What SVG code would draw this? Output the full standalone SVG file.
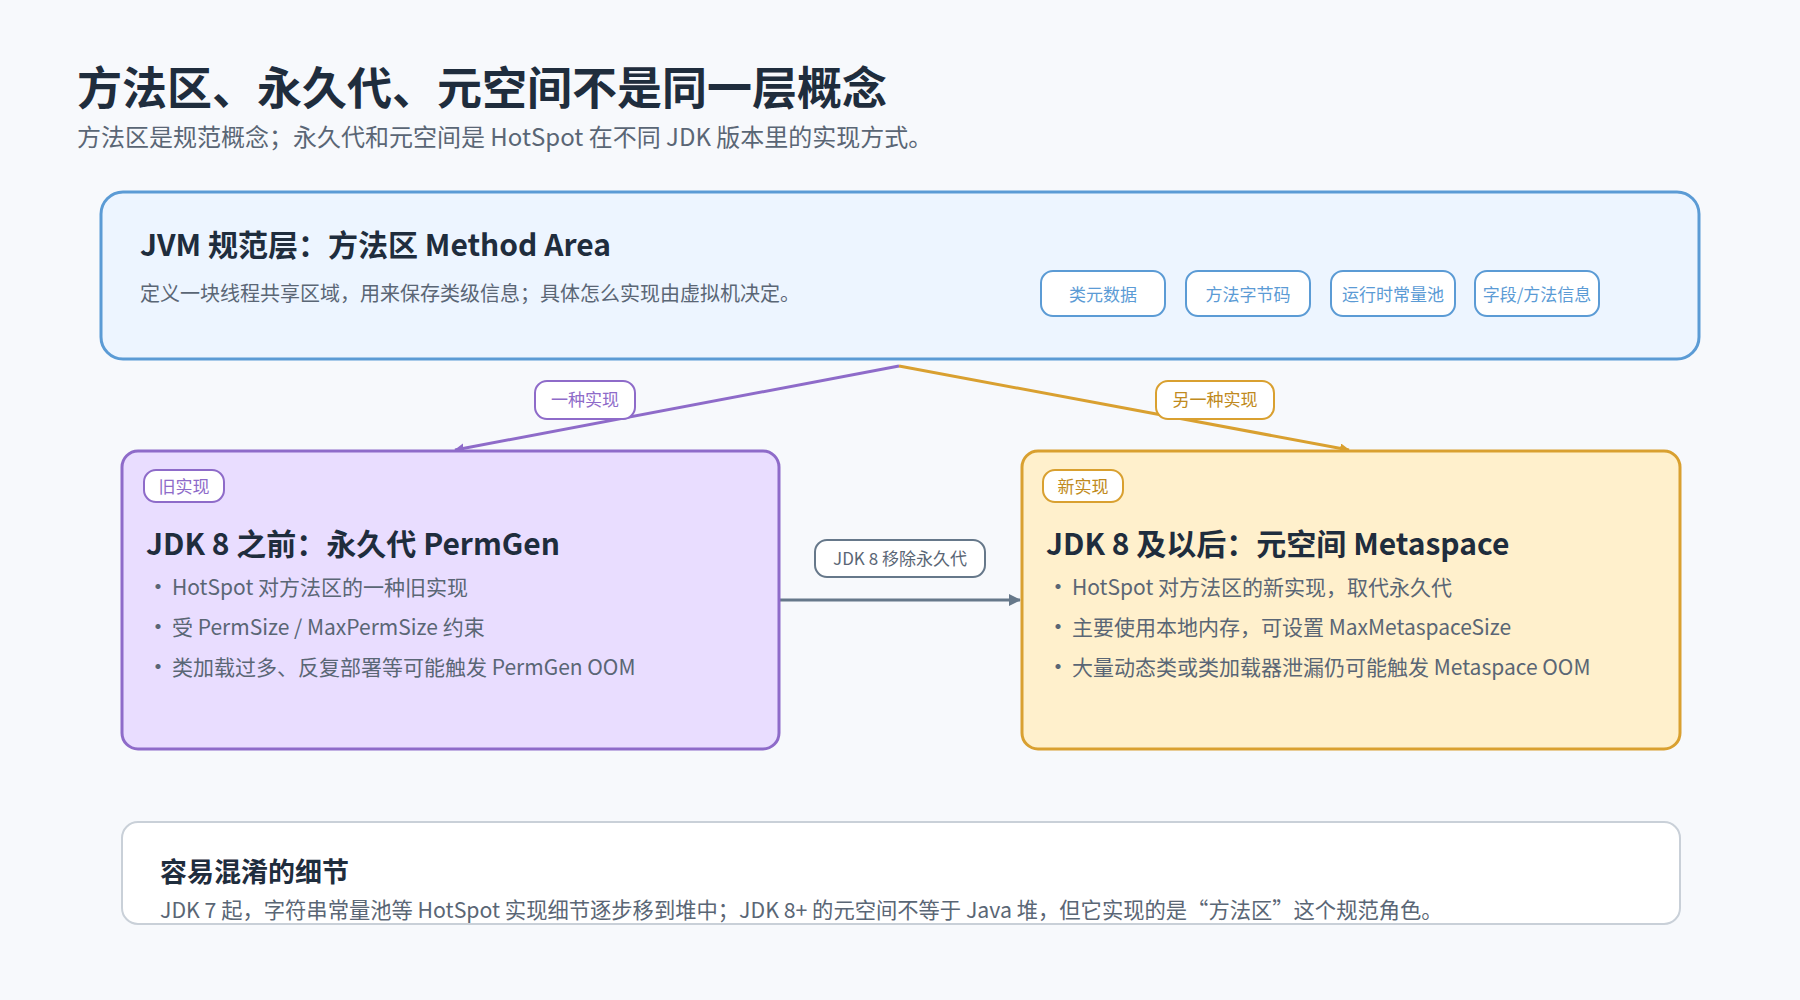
<svg xmlns="http://www.w3.org/2000/svg" width="1800" height="1000" viewBox="0 0 1800 1000">
<style>
text{font-family:"Noto Sans CJK SC","Noto Sans",sans-serif}
.h{font-weight:700;fill:#1f2d3d}
.b{fill:#5a6675}
.chip{fill:#fff;stroke:#5b9bd5;stroke-width:2}
.chipt{fill:#5b9bd5;font-size:17px}
</style>
<defs>
<marker id="ap" markerWidth="10" markerHeight="10" refX="9" refY="5" orient="auto" markerUnits="userSpaceOnUse"><path d="M0,0 L10,5 L0,10z" fill="#8e6bc9"/></marker>
<marker id="ao" markerWidth="10" markerHeight="10" refX="9" refY="5" orient="auto" markerUnits="userSpaceOnUse"><path d="M0,0 L10,5 L0,10z" fill="#d9a030"/></marker>
<marker id="ag" markerWidth="12" markerHeight="12" refX="11" refY="6" orient="auto" markerUnits="userSpaceOnUse"><path d="M0,0 L12,6 L0,12z" fill="#66788a"/></marker>
</defs>
<rect width="1800" height="1000" fill="#f7f9fc"/>
<text x="77" y="105" class="h" font-size="45">方法区、永久代、元空间不是同一层概念</text>
<text x="77" y="146" class="b" font-size="24">方法区是规范概念；永久代和元空间是 HotSpot 在不同 JDK 版本里的实现方式。</text>
<g id="connectors" fill="none" stroke-width="3">
<path d="M899,366 L455,450" stroke="#8e6bc9" marker-end="url(#ap)"/>
<path d="M899,366 L1349,450" stroke="#d9a030" marker-end="url(#ao)"/>
<path d="M779,600 L1020,600" stroke="#66788a" marker-end="url(#ag)"/>
<rect x="535" y="381" width="100" height="38" rx="12" fill="#fff" stroke="#8e6bc9" stroke-width="2"/>
<text x="585" y="406" text-anchor="middle" font-size="17" fill="#8e6bc9" stroke="none">一种实现</text>
<rect x="1156" y="381" width="118" height="38" rx="12" fill="#fff" stroke="#d9a030" stroke-width="2"/>
<text x="1215" y="406" text-anchor="middle" font-size="17" fill="#c08a20" stroke="none">另一种实现</text>
<rect x="815" y="540" width="170" height="37" rx="12" fill="#fff" stroke="#66788a" stroke-width="2"/>
<text x="900" y="565" text-anchor="middle" font-size="17" fill="#5a6675" stroke="none">JDK 8 移除永久代</text>
</g>
<g id="method-area">
<rect x="101" y="192" width="1598" height="167" rx="22" fill="#edf5ff" stroke="#5b9bd5" stroke-width="3"/>
<text x="140" y="256" class="h" font-size="30">JVM 规范层：方法区 Method Area</text>
<text x="140" y="301" class="b" font-size="20">定义一块线程共享区域，用来保存类级信息；具体怎么实现由虚拟机决定。</text>
<rect class="chip" x="1041" y="271" width="124" height="45" rx="12"/><text class="chipt" x="1103" y="301" text-anchor="middle">类元数据</text>
<rect class="chip" x="1186" y="271" width="124" height="45" rx="12"/><text class="chipt" x="1248" y="301" text-anchor="middle">方法字节码</text>
<rect class="chip" x="1331" y="271" width="124" height="45" rx="12"/><text class="chipt" x="1393" y="301" text-anchor="middle">运行时常量池</text>
<rect class="chip" x="1475" y="271" width="124" height="45" rx="12"/><text class="chipt" x="1537" y="301" text-anchor="middle">字段/方法信息</text>
</g>
<g id="permgen">
<rect x="122" y="451" width="657" height="298" rx="16" fill="#e9ddff" stroke="#8e6bc9" stroke-width="3"/>
<rect x="144" y="470" width="80" height="32" rx="12" fill="#fff" stroke="#8e6bc9" stroke-width="2"/>
<text x="184" y="493" text-anchor="middle" font-size="17" fill="#8e6bc9">旧实现</text>
<text x="146" y="555" class="h" font-size="30">JDK 8 之前：永久代 PermGen</text>
<g class="b" font-size="21">
<text x="146" y="595" font-size="24">•</text><text x="172" y="595">HotSpot 对方法区的一种旧实现</text>
<text x="146" y="635" font-size="24">•</text><text x="172" y="635">受 PermSize / MaxPermSize 约束</text>
<text x="146" y="675" font-size="24">•</text><text x="172" y="675">类加载过多、反复部署等可能触发 PermGen OOM</text>
</g>
</g>
<g id="metaspace">
<rect x="1022" y="451" width="658" height="298" rx="16" fill="#fff0cc" stroke="#d9a030" stroke-width="3"/>
<rect x="1043" y="470" width="80" height="32" rx="12" fill="#fff" stroke="#d9a030" stroke-width="2"/>
<text x="1083" y="493" text-anchor="middle" font-size="17" fill="#c08a20">新实现</text>
<text x="1046" y="555" class="h" font-size="30">JDK 8 及以后：元空间 Metaspace</text>
<g class="b" font-size="21">
<text x="1046" y="595" font-size="24">•</text><text x="1072" y="595">HotSpot 对方法区的新实现，取代永久代</text>
<text x="1046" y="635" font-size="24">•</text><text x="1072" y="635">主要使用本地内存，可设置 MaxMetaspaceSize</text>
<text x="1046" y="675" font-size="24">•</text><text x="1072" y="675">大量动态类或类加载器泄漏仍可能触发 Metaspace OOM</text>
</g>
</g>
<g id="note">
<rect x="122" y="822" width="1558" height="102" rx="16" fill="#fff" stroke="#c9d0d8" stroke-width="2"/>
<text x="160" y="882" class="h" font-size="27">容易混淆的细节</text>
<text x="160" y="918" class="b" font-size="21.3">JDK 7 起，字符串常量池等 HotSpot 实现细节逐步移到堆中；JDK 8+ 的元空间不等于 Java 堆，但它实现的是“方法区”这个规范角色。</text>
</g>
</svg>
